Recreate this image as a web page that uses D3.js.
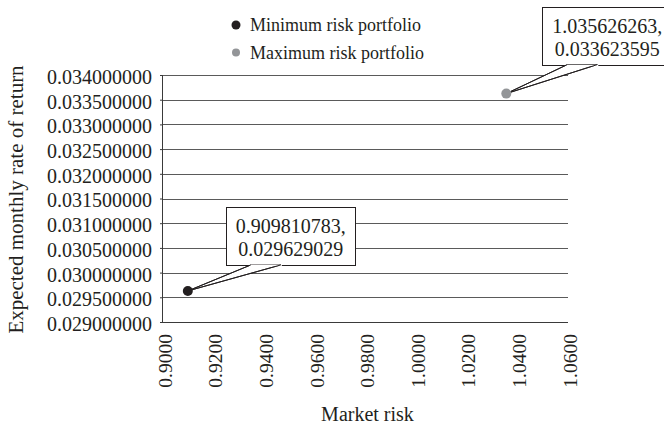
<!DOCTYPE html>
<html>
<head>
<meta charset="utf-8">
<script src="https://cdn.jsdelivr.net/npm/d3@7/dist/d3.min.js"></script>
<style>
  html, body { margin: 0; padding: 0; background: #fff; }
  svg { display: block; font-family: "Liberation Serif", "Times New Roman", serif; }
</style>
</head>
<body>
<svg id="chart" width="664" height="426"></svg>
<script>
// ---- Data ----
const seriesNames = ["Minimum risk portfolio", "Maximum risk portfolio"];
const seriesColors = ["#231f20", "#939598"];
const marketRisk = [0.909810783, 1.035626263];
const expectedReturn = [0.029629029, 0.033623595];
const pointLabels = [["0.909810783,", "0.029629029"], ["1.035626263,", "0.033623595"]];
const xTicks = [0.90, 0.92, 0.94, 0.96, 0.98, 1.00, 1.02, 1.04, 1.06];
const yTicks = [0.0290, 0.0295, 0.0300, 0.0305, 0.0310, 0.0315, 0.0320, 0.0325, 0.0330, 0.0335, 0.0340];
const xTitle = "Market risk";
const yTitle = "Expected monthly rate of return";

// ---- Layout ----
const svg = d3.select("#chart");
const margin = { left: 163, right: 96, top: 75, bottom: 104 };
const W = 664, H = 426;
const iw = W - margin.left - margin.right;
const ih = H - margin.top - margin.bottom;

const x = d3.scaleLinear().domain([0.90, 1.06]).range([0, iw]);
const y = d3.scaleLinear().domain([0.029, 0.034]).range([ih, 0]);

const g = svg.append("g").attr("transform", `translate(${margin.left},${margin.top})`);

// gridlines
g.append("g").selectAll("line").data(yTicks.slice(1)).join("line")
  .attr("x1", 0).attr("x2", iw)
  .attr("y1", d => Math.round(y(d)) + 0.5).attr("y2", d => Math.round(y(d)) + 0.5)
  .attr("stroke", "#5a5a5a").attr("stroke-width", 1);

// y axis
const yAxis = g.append("g")
  .call(d3.axisLeft(y).tickValues(yTicks).tickFormat(d3.format(".9f")).tickSize(3).tickPadding(8));
yAxis.select(".domain").attr("stroke", "#3a3a3a").attr("d", `M-0.5,${ih}V0`);
yAxis.selectAll(".tick line").attr("stroke", "#3a3a3a");
yAxis.selectAll(".tick text")
  .attr("font-size", "20px").attr("fill", "#231f20").attr("dy", "0.42em")
  .style("font-family", "Liberation Serif");

// x axis
const xAxis = g.append("g").attr("transform", `translate(0,${ih})`)
  .call(d3.axisBottom(x).tickValues(xTicks).tickFormat(d3.format(".4f")).tickSize(0));
xAxis.select(".domain").attr("stroke", "#3a3a3a").attr("d", `M0,0.5H${iw}`);
xAxis.selectAll(".tick text")
  .attr("font-size", "19.5px").attr("fill", "#231f20")
  .attr("transform", "rotate(-90)")
  .attr("x", -12).attr("y", 0).attr("dy", "0.42em")
  .style("text-anchor", "end")
  .style("font-family", "Liberation Serif");

// callouts
const boxW = 129, boxH = 58;
const calloutOffset = [[38, -26], [36, -29]];
marketRisk.forEach((mr, i) => {
  const px = x(mr), py = y(expectedReturn[i]);
  const bx = px + calloutOffset[i][0];
  const by = py + calloutOffset[i][1] - boxH;
  const cg = g.append("g");
  cg.append("rect")
    .attr("x", Math.round(bx) + 0.5).attr("y", Math.round(by) + 0.5)
    .attr("width", boxW).attr("height", boxH)
    .attr("fill", "#fff").attr("stroke", "#231f20").attr("stroke-width", 1);
  cg.append("path")
    .attr("d", `M${px},${py}L${bx + 25},${by + boxH}L${bx + 55},${by + boxH}Z`)
    .attr("fill", "#fff").attr("stroke", "#231f20").attr("stroke-width", 1);
  cg.append("line")
    .attr("x1", bx + 24).attr("x2", bx + 56)
    .attr("y1", Math.round(by + boxH) + 0.5).attr("y2", Math.round(by + boxH) + 0.5)
    .attr("stroke", "#fff").attr("stroke-width", 1.5);
  cg.append("path")
    .attr("d", `M${bx + 25},${by + boxH}L${px},${py}L${bx + 55},${by + boxH}`)
    .attr("fill", "none").attr("stroke", "#231f20").attr("stroke-width", 1);
  pointLabels[i].forEach((t, j) => {
    cg.append("text")
      .attr("x", bx + boxW / 2 + 0.5).attr("y", by + 26 + j * 23.5)
      .attr("text-anchor", "middle").attr("font-size", "20px").attr("fill", "#231f20")
      .text(t);
  });
});

// points
g.append("g").selectAll("circle").data(marketRisk).join("circle")
  .attr("cx", d => x(d)).attr("cy", (d, i) => y(expectedReturn[i]))
  .attr("r", 5).attr("fill", (d, i) => seriesColors[i]);

// axis titles
svg.append("text")
  .attr("x", margin.left + iw / 2 + 2).attr("y", 421)
  .attr("text-anchor", "middle").attr("font-size", "20px").attr("fill", "#231f20")
  .text(xTitle);
svg.append("text")
  .attr("transform", `translate(23,${margin.top + ih / 2 + 1}) rotate(-90)`)
  .attr("text-anchor", "middle").attr("font-size", "21px").attr("fill", "#231f20")
  .text(yTitle);

// legend
const legend = svg.append("g");
seriesNames.forEach((name, i) => {
  const cy = 25 + i * 27.5;
  legend.append("circle").attr("cx", 236).attr("cy", cy).attr("r", i === 0 ? 4.5 : 4)
    .attr("fill", seriesColors[i]);
  legend.append("text").attr("x", 250).attr("y", cy + 6)
    .attr("font-size", "18px").attr("fill", "#231f20").text(name);
});
</script>
</body>
</html>
